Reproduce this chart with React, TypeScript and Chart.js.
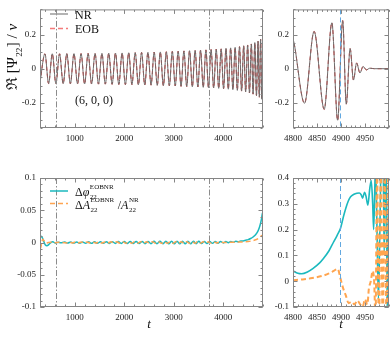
import React, { useEffect, useRef } from "react";
import { Chart, registerables } from "chart.js";
Chart.register(...registerables);

const FONT = '"Liberation Serif", "DejaVu Serif", "Times New Roman", serif';

// ---------- data ----------
// Re[Psi22]/nu : extrema of the waveform (t, value)
const waveT = [300, 400, 474, 548, 621, 695, 768, 841, 913, 986, 1057, 1129, 1200, 1271, 1341, 1411, 1480, 1550, 1618, 1687, 1755, 1823, 1890, 1957, 2023, 2090, 2155, 2221, 2285, 2350, 2414, 2478, 2541, 2604, 2666, 2728, 2789, 2850, 2910, 2970, 3029, 3088, 3146, 3204, 3261, 3318, 3374, 3430, 3485, 3540, 3594, 3648, 3700, 3753, 3804, 3856, 3906, 3956, 4004, 4053, 4100, 4147, 4192, 4238, 4282, 4326, 4368, 4410, 4450, 4490, 4527, 4565, 4600, 4635, 4668, 4700, 4726, 4752, 4775, 4797, 4824, 4844, 4865, 4881, 4893, 4903.5, 4911, 4919, 4926, 4932.5, 4939.5, 4946, 4953, 4960, 4970, 5000];
const nrV = [-0.08, 0.088, -0.088, 0.088, -0.088, 0.088, -0.088, 0.089, -0.089, 0.089, -0.089, 0.089, -0.09, 0.09, -0.09, 0.09, -0.091, 0.091, -0.091, 0.092, -0.092, 0.092, -0.093, 0.093, -0.094, 0.094, -0.094, 0.095, -0.095, 0.096, -0.096, 0.097, -0.097, 0.098, -0.098, 0.099, -0.1, 0.1, -0.101, 0.102, -0.102, 0.103, -0.104, 0.105, -0.105, 0.106, -0.107, 0.108, -0.108, 0.109, -0.11, 0.111, -0.112, 0.113, -0.114, 0.115, -0.116, 0.117, -0.118, 0.12, -0.121, 0.123, -0.124, 0.126, -0.128, 0.13, -0.132, 0.135, -0.137, 0.14, -0.143, 0.146, -0.15, 0.154, -0.158, 0.163, -0.168, 0.174, -0.18, 0.19, -0.204, 0.22, -0.24, 0.271, -0.304, 0.284, -0.209, 0.119, -0.067, 0.034, -0.025, 0.013, -0.007, 0.003, 0, 0];
// EOB overlays NR to within the line width in the picture
const eobV = nrV;

// phase / amplitude differences, left panel (t, value)
const dPhiLeft: [number, number][] = [
  [300, 0.008], [325, 0.0095], [350, 0.007], [380, 0.001], [410, -0.004], [440, -0.005], [480, -0.003], [520, 0], [560, 0.001], [610, -0.001], [660, 0.0005], [720, -0.0005],
  [800, 0.0006], [860, -0.0008], [920, 0.0007], [980, -0.0009], [1040, 0.0008], [1100, -0.001], [1160, 0.0009], [1220, -0.0011], [1280, 0.001], [1340, -0.0012], [1400, 0.0011], [1460, -0.0012],
  [1520, 0.0012], [1580, -0.0013], [1640, 0.0012], [1700, -0.0014], [1760, 0.0013], [1820, -0.0014], [1880, 0.0014], [1940, -0.0015], [2000, 0.0014], [2060, -0.0016], [2120, 0.0015], [2180, -0.0016],
  [2240, 0.0016], [2300, -0.0017], [2360, 0.0016], [2420, -0.0018], [2480, 0.0017], [2540, -0.0018], [2600, 0.0018], [2660, -0.0019], [2720, 0.0018], [2780, -0.0019], [2840, 0.0019], [2900, -0.002],
  [2955, 0.0019], [3010, -0.002], [3065, 0.002], [3120, -0.002], [3175, 0.002], [3230, -0.0019], [3285, 0.002], [3340, -0.0019], [3395, 0.0019], [3450, -0.0018], [3505, 0.0018], [3560, -0.0017],
  [3615, 0.0017], [3670, -0.0015], [3725, 0.0016], [3780, -0.0013], [3835, 0.0015], [3890, -0.001], [3945, 0.0014], [4000, -0.0006], [4050, 0.0015], [4100, -0.0002], [4150, 0.0016], [4200, 0.0004],
  [4250, 0.0018], [4300, 0.0012], [4350, 0.0025], [4400, 0.0025], [4450, 0.0035], [4500, 0.0045], [4550, 0.0062], [4600, 0.0085], [4650, 0.012], [4700, 0.018], [4730, 0.024], [4755, 0.031],
  [4775, 0.039], [4790, 0.046], [4800, 0.041],
];
const dAmpLeft: [number, number][] = [
  [300, -0.01], [315, -0.008], [335, 0], [355, 0.005], [380, 0.003], [420, -0.001], [470, 0], [530, 0.0005], [600, -0.0005], [680, 0.0003],
  [830, -0.0006], [890, 0.0006], [950, -0.0007], [1010, 0.0007], [1070, -0.0007], [1130, 0.0007], [1190, -0.0008], [1250, 0.0008], [1310, -0.0008], [1370, 0.0008], [1430, -0.0009], [1490, 0.0009],
  [1550, -0.0009], [1610, 0.0009], [1670, -0.001], [1730, 0.001], [1790, -0.001], [1850, 0.001], [1910, -0.001], [1970, 0.0011], [2030, -0.0011], [2090, 0.0011], [2150, -0.0011], [2210, 0.0011],
  [2270, -0.0012], [2330, 0.0012], [2390, -0.0012], [2450, 0.0012], [2510, -0.0012], [2570, 0.0012], [2630, -0.0013], [2690, 0.0013], [2750, -0.0013], [2810, 0.0013], [2870, -0.0013], [2930, 0.0013],
  [2985, -0.0013], [3040, 0.0013], [3095, -0.0013], [3150, 0.0013], [3205, -0.0013], [3260, 0.0013], [3315, -0.0012], [3370, 0.0012], [3425, -0.0012], [3480, 0.0012], [3535, -0.0011], [3590, 0.0011],
  [3645, -0.001], [3700, 0.001], [3755, -0.001], [3810, 0.001], [3865, -0.0009], [3920, 0.0009],
  [4000, 0], [4100, 0.0003], [4200, 0.0005], [4300, 0.0006], [4400, 0.001], [4500, 0.0015], [4600, 0.003], [4680, 0.005], [4740, 0.008], [4780, 0.011], [4800, 0.006],
];
// right panel (merger zoom)
const dPhiRight: [number, number][] = [
  [4800, 0.04], [4810, 0.031], [4818, 0.029], [4830, 0.036], [4842, 0.05], [4855, 0.07], [4863, 0.087], [4875, 0.118], [4884, 0.15], [4892, 0.178], [4899, 0.205], [4905, 0.25],
  [4910, 0.283], [4915, 0.31], [4920, 0.327], [4927, 0.337], [4933, 0.341], [4938, 0.342], [4942, 0.335], [4945, 0.322], [4949, 0.345], [4952, 0.33], [4956, 0.295], [4960, 0.36],
  [4963, 0.39], [4966, 0.3], [4968, 0.2], [4970, 0.33], [4972, 0.45], [4975, 0.2], [4978, -0.07], [4981, 0.2], [4984, 0.5], [4988, 0.45], [4990, 0.1], [4993, 0.6], [4997, -0.2], [5000, 0.6],
];
const dAmpRight: [number, number][] = [
  [4800, 0.004], [4820, 0.007], [4840, 0.012], [4860, 0.02], [4875, 0.03], [4885, 0.04], [4893, 0.048], [4899, 0.01], [4904, -0.025], [4910, -0.055], [4916, -0.085], [4922, -0.08],
  [4928, -0.09], [4934, -0.075], [4940, -0.09], [4945, -0.1], [4950, -0.07], [4955, -0.09], [4958, -0.03], [4962, 0], [4966, 0.04], [4969, 0], [4972, -0.15], [4975, 0.45],
  [4979, -0.2], [4983, 0.45], [4987, -0.2], [4991, 0.45], [4995, -0.2], [4998, 0.45],
];

const markerTimes = [620, 3720];
const mergerTime = 4898;

const xTicksLeft = [1000, 2000, 3000, 4000];
const xTicksRight = [4800, 4850, 4900, 4950];
const yTicksTop = [-0.2, 0, 0.2];
const yTicksBL = [-0.1, -0.05, 0, 0.05, 0.1];
const yTicksBR = [-0.1, 0, 0.1, 0.2, 0.3, 0.4];

// ---------- helpers ----------
const C_NR = "#6e6e6e";
const C_EOB = "#ee1c1c";
const C_PHI = "#1bb9be";
const C_AMP = "#ffa550";
const C_FRAME = "#858585";

const pairs = (xs: number[], ys: number[]) => xs.map((x, i) => ({ x, y: ys[i] }));
const pts = (arr: [number, number][]) => arr.map(([x, y]) => ({ x, y }));

type Seg = { t?: string; it?: boolean; s?: number; sup?: string; sub?: string };
function drawRich(ctx: CanvasRenderingContext2D, x: number, y: number, segs: Seg[], base: number, align: "left" | "center", color: string) {
  const f = (size: number, it?: boolean) => `${it ? "italic " : ""}${size}px ${FONT}`;
  const small = Math.round(base * 0.62);
  const widthOf = (seg: Seg) => {
    if (seg.t !== undefined) {
      ctx.font = f(seg.s || base, seg.it);
      return ctx.measureText(seg.t).width;
    }
    ctx.font = f(small, false);
    return Math.max(seg.sup ? ctx.measureText(seg.sup).width : 0, seg.sub ? ctx.measureText(seg.sub).width : 0) + 1;
  };
  const total = segs.reduce((w, s) => w + widthOf(s), 0);
  let cx = align === "center" ? x - total / 2 : x;
  ctx.fillStyle = color;
  ctx.textAlign = "left";
  ctx.textBaseline = "alphabetic";
  for (const seg of segs) {
    const w = widthOf(seg);
    if (seg.t !== undefined) ctx.fillText(seg.t, cx, y);
    else {
      if (seg.sup) ctx.fillText(seg.sup, cx + 0.5, y - base * 0.52);
      if (seg.sub) ctx.fillText(seg.sub, cx + 0.5, y + base * 0.3);
    }
    cx += w;
  }
}

function sample(ctx: CanvasRenderingContext2D, x0: number, x1: number, y: number, color: string, w: number, dash: number[]) {
  ctx.save();
  ctx.strokeStyle = color;
  ctx.lineWidth = w;
  ctx.setLineDash(dash);
  ctx.beginPath();
  ctx.moveTo(x0, y);
  ctx.lineTo(x1, y);
  ctx.stroke();
  ctx.restore();
}

type Panel = {
  area: [number, number, number, number];
  xMin: number; xMax: number; yMin: number; yMax: number;
  xMajor: number[]; xMinor: number; yMajor: number[]; yMinor: number;
  datasets: any[];
  vlines: { x: number; color: string; dash: number[]; w: number }[];
  extra?: (ctx: CanvasRenderingContext2D) => void;
};

function decoPlugin(p: Panel) {
  return {
    id: "deco",
    afterDatasetsDraw(chart: any) {
      const ctx: CanvasRenderingContext2D = chart.ctx;
      const a = chart.chartArea;
      const xs = chart.scales.x;
      const ys = chart.scales.y;
      ctx.save();
      ctx.beginPath();
      ctx.rect(a.left, a.top, a.right - a.left, a.bottom - a.top);
      ctx.clip();
      for (const v of p.vlines) {
        const px = Math.round(xs.getPixelForValue(v.x)) + 0.5;
        ctx.strokeStyle = v.color;
        ctx.lineWidth = v.w;
        ctx.setLineDash(v.dash);
        ctx.beginPath();
        ctx.moveTo(px, a.top);
        ctx.lineTo(px, a.bottom);
        ctx.stroke();
      }
      ctx.restore();

      ctx.save();
      ctx.strokeStyle = C_FRAME;
      ctx.lineWidth = 1;
      ctx.setLineDash([]);
      const l = a.left + 0.5, r = a.right - 0.5, t = a.top + 0.5, b = a.bottom - 0.5;
      ctx.strokeRect(l, t, r - l, b - t);
      ctx.beginPath();
      const xt = (v: number, len: number) => {
        const px = Math.round(xs.getPixelForValue(v)) + 0.5;
        ctx.moveTo(px, b); ctx.lineTo(px, b - len);
        ctx.moveTo(px, t); ctx.lineTo(px, t + len);
      };
      const yt = (v: number, len: number) => {
        const py = Math.round(ys.getPixelForValue(v)) + 0.5;
        ctx.moveTo(l, py); ctx.lineTo(l + len, py);
        ctx.moveTo(r, py); ctx.lineTo(r - len, py);
      };
      for (let v = Math.ceil(p.xMin / p.xMinor) * p.xMinor; v <= p.xMax + 1e-9; v += p.xMinor) xt(v, 2);
      for (let v = Math.ceil(p.yMin / p.yMinor - 1e-9) * p.yMinor; v <= p.yMax + 1e-9; v += p.yMinor) yt(v, 2);
      p.xMajor.forEach((v) => xt(v, 4));
      p.yMajor.forEach((v) => yt(v, 4));
      ctx.stroke();
      ctx.restore();

      if (p.extra) {
        ctx.save();
        p.extra(ctx);
        ctx.restore();
      }
    },
  };
}

function buildConfig(p: Panel): any {
  const [L, T, R, B] = p.area;
  const tickFont = { family: FONT, size: 9 };
  return {
    type: "line",
    data: { datasets: p.datasets },
    options: {
      responsive: false,
      maintainAspectRatio: false,
      animation: false,
      devicePixelRatio: 1,
      events: [],
      layout: { padding: { left: 0, top: T, right: 390 - R, bottom: 0 } },
      plugins: { legend: { display: false }, tooltip: { enabled: false } },
      scales: {
        x: {
          type: "linear",
          min: p.xMin,
          max: p.xMax,
          grid: { display: false, drawTicks: false },
          border: { display: false },
          afterBuildTicks: (s: any) => { s.ticks = p.xMajor.map((v) => ({ value: v })); },
          afterFit: (s: any) => { s.height = 337 - B; },
          ticks: { autoSkip: false, maxRotation: 0, padding: 5, font: tickFont, color: "#222", callback: (v: any) => String(v) },
        },
        y: {
          type: "linear",
          min: p.yMin,
          max: p.yMax,
          grid: { display: false, drawTicks: false },
          border: { display: false },
          afterBuildTicks: (s: any) => { s.ticks = p.yMajor.map((v) => ({ value: v })); },
          afterFit: (s: any) => { s.width = L; },
          ticks: { autoSkip: false, padding: 4, font: tickFont, color: "#222", callback: (v: any) => String(v) },
        },
      },
    },
    plugins: [decoPlugin(p)],
  };
}

const lineDs = (data: any[], color: string, w: number, dash: number[]) => ({
  data,
  borderColor: color,
  borderWidth: w,
  borderDash: dash,
  pointRadius: 0,
  fill: false,
  cubicInterpolationMode: "monotone",
});

const grayMarkers = markerTimes.map((x) => ({ x, color: "#8c8c8c", dash: [6, 2, 1.5, 2], w: 1 }));
const blueMarker = [{ x: mergerTime, color: "#62a8e0", dash: [5, 3], w: 1 }];

const panels: Panel[] = [
  {
    area: [40, 0, 263, 128],
    xMin: 300, xMax: 4800, yMin: -0.35, yMax: 0.35,
    xMajor: xTicksLeft, xMinor: 200, yMajor: yTicksTop, yMinor: 0.05,
    datasets: [lineDs(pairs(waveT, nrV), C_NR, 1, []), lineDs(pairs(waveT, eobV), C_EOB, 1, [4, 3])],
    vlines: grayMarkers,
    extra: (ctx) => {
      sample(ctx, 50, 68, 14, "#9a9a9a", 1.5, []);
      sample(ctx, 50, 68, 28.5, "#f47a7a", 1.5, [5, 3]);
      drawRich(ctx, 75, 18.5, [{ t: "NR" }], 12, "left", "#111");
      drawRich(ctx, 75, 33, [{ t: "EOB" }], 12, "left", "#111");
      drawRich(ctx, 75, 104, [{ t: "(6, 0, 0)" }], 12, "left", "#111");
      ctx.translate(17, 57);
      ctx.rotate(-Math.PI / 2);
      drawRich(ctx, 0, 0, [{ t: "ℜ" }, { t: " [" }, { t: "Ψ" }, { sub: "22" }, { t: "] " }, { t: "/" }, { t: " ν", it: true }], 15, "center", "#111");
    },
  },
  {
    area: [293, 0, 389, 128],
    xMin: 4800, xMax: 5000, yMin: -0.35, yMax: 0.35,
    xMajor: xTicksRight, xMinor: 10, yMajor: yTicksTop, yMinor: 0.05,
    datasets: [lineDs(pairs(waveT, nrV), C_NR, 1, []), lineDs(pairs(waveT, eobV), C_EOB, 1, [4, 3])],
    vlines: blueMarker,
  },
  {
    area: [40, 178, 263, 307],
    xMin: 300, xMax: 4800, yMin: -0.1, yMax: 0.1,
    xMajor: xTicksLeft, xMinor: 200, yMajor: yTicksBL, yMinor: 0.01,
    datasets: [lineDs(pts(dAmpLeft), C_AMP, 1.5, [5, 3]), lineDs(pts(dPhiLeft), C_PHI, 1.5, [])],
    vlines: grayMarkers,
    extra: (ctx) => {
      sample(ctx, 50, 68, 191, C_PHI, 1.5, []);
      sample(ctx, 50, 68, 203.5, C_AMP, 1.5, [5, 3]);
      drawRich(ctx, 75, 195.5, [{ t: "Δ" }, { t: "φ", it: true }, { sup: "EOBNR", sub: "22" }], 12, "left", "#111");
      drawRich(ctx, 75, 208.5, [{ t: "Δ" }, { t: "A", it: true }, { sup: "EOBNR", sub: "22" }, { t: " /" }, { t: "A", it: true }, { sup: "NR", sub: "22" }], 12, "left", "#111");
      drawRich(ctx, 149, 328, [{ t: "t", it: true }], 13, "center", "#111");
    },
  },
  {
    area: [293, 178, 389, 307],
    xMin: 4800, xMax: 5000, yMin: -0.1, yMax: 0.4,
    xMajor: xTicksRight, xMinor: 10, yMajor: yTicksBR, yMinor: 0.02,
    datasets: [lineDs(pts(dAmpRight), C_AMP, 2, [5, 3]), lineDs(pts(dPhiRight), C_PHI, 1.6, [])],
    vlines: blueMarker,
    extra: (ctx) => {
      drawRich(ctx, 341, 328, [{ t: "t", it: true }], 13, "center", "#111");
    },
  },
];

export default function App() {
  const r0 = useRef<HTMLCanvasElement>(null);
  const r1 = useRef<HTMLCanvasElement>(null);
  const r2 = useRef<HTMLCanvasElement>(null);
  const r3 = useRef<HTMLCanvasElement>(null);
  const refs = [r0, r1, r2, r3];
  useEffect(() => {
    const charts = panels.map((p, i) => new Chart(refs[i].current as HTMLCanvasElement, buildConfig(p)));
    return () => charts.forEach((c) => c.destroy());
  }, []);
  return (
    <div style={{ position: "fixed", left: 0, top: 0, width: 390, height: 337, background: "#fff" }}>
      {refs.map((r, i) => (
        <canvas key={i} ref={r} width={390} height={337} style={{ position: "absolute", left: 0, top: 0, width: 390, height: 337 }} />
      ))}
    </div>
  );
}
